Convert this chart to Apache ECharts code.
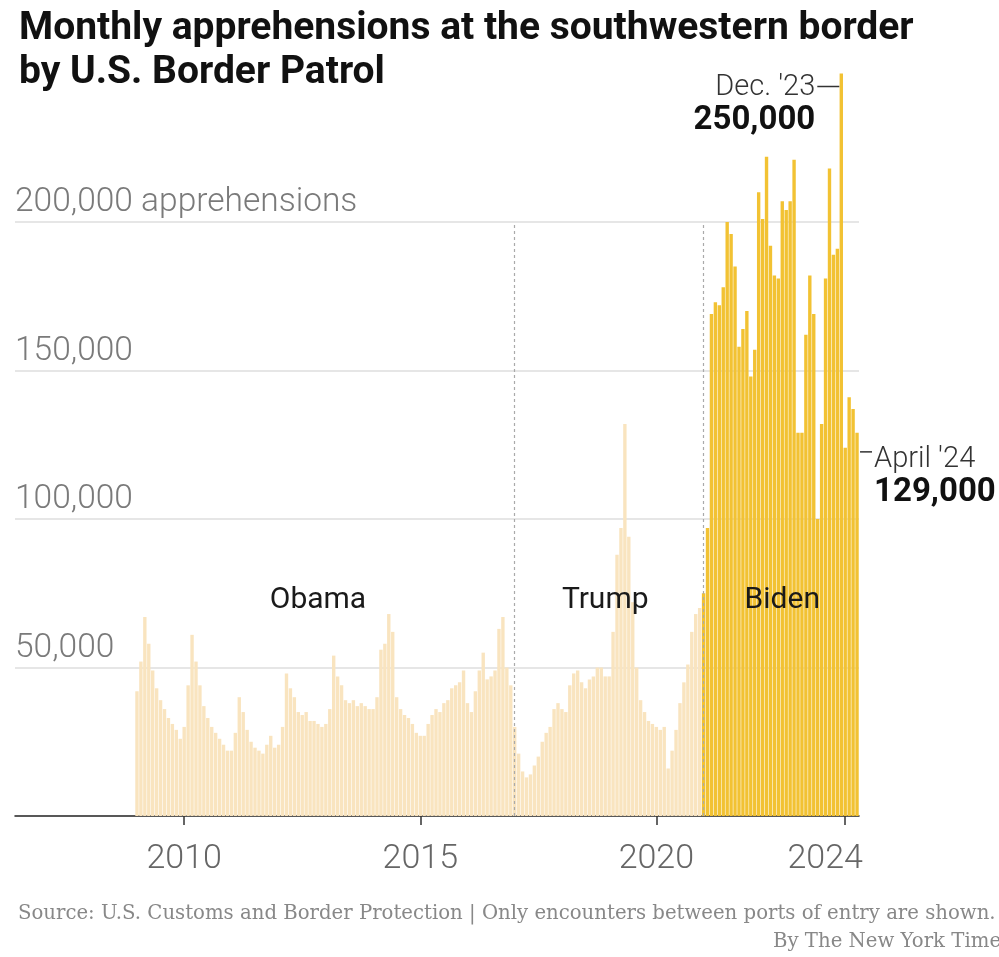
<!DOCTYPE html>
<html>
<head>
<meta charset="utf-8">
<script src="https://cdn.jsdelivr.net/npm/echarts@6/dist/echarts.min.js"></script>
<style>
html,body{margin:0;padding:0;background:#fff;}
#c{width:999px;height:957px;}
</style>
</head>
<body>
<div id="c"></div>
<script>
// ---- Data (monthly USBP apprehensions, southwest border) ----
const years = [2009,2010,2011,2012,2013,2014,2015,2016,2017,2018,2019,2020,2021,2022,2023,2024];
const y2009 = [42000,52000,67000,58000,49000,43000,39000,36000,33000,31000,29000,26000];
const y2010 = [30000,44000,61000,52000,44000,37000,33000,30000,28000,26000,24000,22000];
const y2011 = [22000,28000,40000,35000,29000,25000,23000,22000,21000,24000,27000,23000];
const y2012 = [24000,30000,48000,43000,40000,35000,34000,35000,32000,32000,31000,30000];
const y2013 = [31000,36000,54000,47000,44000,39000,38000,39000,37000,38000,37000,36000];
const y2014 = [36000,40000,56000,58000,68000,62000,40000,36000,34000,33000,31000,28000];
const y2015 = [27000,27000,31000,34000,36000,35000,38000,39000,43000,44000,45000,49000];
const y2016 = [38000,35000,42000,49000,55000,46000,47000,49000,63000,67000,50000,44000];
const y2017 = [30000,21000,15000,13000,14000,17000,20000,25000,28000,30000,36000,38000];
const y2018 = [36000,35000,44000,48000,49000,45000,43000,46000,47000,50000,50000,47000];
const y2019 = [47000,62000,88000,97000,132000,94000,72000,50000,39000,35000,32000,31000];
const y2020 = [30000,29000,30000,16000,22000,29000,38000,45000,51000,62000,68000,70000];
const y2021 = [75000,97000,169000,173000,172000,178000,200000,196000,185000,158000,164000,170000];
const y2022 = [148000,157000,210000,201000,222000,192000,182000,181000,207000,204000,207000,221000];
const y2023 = [129000,129000,162000,182000,169000,100000,132000,181000,218000,189000,191000,250000];
const y2024 = [124000,141000,137000,129000];
const monthly = [].concat(y2009,y2010,y2011,y2012,y2013,y2014,y2015,y2016,y2017,y2018,y2019,y2020,y2021,y2022,y2023,y2024);

const categories = [];
years.forEach(function(y){
  for (let m = 1; m <= 12; m++) {
    if (categories.length < monthly.length) categories.push(y + '-' + String(m).padStart(2,'0'));
  }
});

const xTickCats = ['2010-01','2015-01','2020-01','2024-01'];
const xTickLabels = ['2010','2015','2020','2024'];
const yTicks = [0,50000,100000,150000,200000,250000];
const yTickLabels = ['','50,000','100,000','150,000','200,000 apprehensions',''];

const trumpStart = '2017-01';
const bidenStart = '2021-01';
const periodNames = ['Obama','Trump','Biden'];
const periodLabelAt = ['2012-11','2018-12','2022-09'];
const periodLabelValue = 72500;

const peakCat = '2023-12';
const lastCat = '2024-04';
const peakText = ["Dec. '23", '250,000'];
const lastText = ["April '24", '129,000'];

const PALE = '#f9e4bf';
const GOLD = '#f2c233';

// ---- Chart ----
const chart = echarts.init(document.getElementById('c'), null, {renderer:'canvas'});
const bidenIdx = categories.indexOf(bidenStart);

const option = {
  animation: false,
  backgroundColor: '#fff',
  textStyle: {fontFamily: 'Roboto'},
  title: {
    text: 'Monthly apprehensions at the southwestern border\nby U.S. Border Patrol',
    left: 14, top: 2,
    textStyle: {fontFamily:'Roboto', fontWeight:'bold', fontSize:39, lineHeight:44, color:'#111'}
  },
  grid: [
    {left: 15, right: 140, top: 73.5, bottom: 141, containLabel: false},
    {left: 135, right: 140, top: 73.5, bottom: 141, containLabel: false}
  ],
  xAxis: [
    {
      gridIndex: 0, type: 'category', data: categories,
      axisLine: {show: true, lineStyle: {color: '#222', width: 1.5}},
      axisTick: {show: false}, axisLabel: {show: false}, splitLine: {show: false}
    },
    {
      gridIndex: 1, type: 'category', data: categories, boundaryGap: true,
      axisLine: {show: false},
      axisTick: {show: true, alignWithLabel: true, length: 9,
        interval: function(i, v){ return xTickCats.indexOf(v) >= 0; },
        lineStyle: {color: '#333', width: 1.5}},
      axisLabel: {
        interval: function(i, v){ return xTickCats.indexOf(v) >= 0; },
        margin: 26,
        formatter: function(v){
          const k = xTickCats.indexOf(v);
          if (k < 0) return '';
          return (k === xTickCats.length - 1 ? '{s|' : '{n|') + xTickLabels[k] + '}';
        },
        rich: {
          n: {fontFamily:'Roboto', fontSize: 34, fontWeight: 300, color: '#666'},
          s: {fontFamily:'Roboto', fontSize: 34, fontWeight: 300, color: '#666', padding: [0, 40, 0, 0]}
        }
      },
      splitLine: {show: false}
    }
  ],
  yAxis: [
    {
      gridIndex: 0, type: 'value', min: 0, max: 250000, interval: 50000,
      axisLine: {show: false}, axisTick: {show: false},
      splitLine: {show: true, showMinLine: false, showMaxLine: false, lineStyle: {color: '#dedede', width: 1.5}},
      axisLabel: {
        inside: true, margin: 0, align: 'left', verticalAlign: 'bottom',
        padding: [0, 0, 2, 0],
        fontFamily: 'Roboto', fontSize: 33.5, fontWeight: 300, color: '#7a7a7a',
        formatter: function(v){ const k = yTicks.indexOf(v); return k >= 0 ? yTickLabels[k] : ''; }
      }
    },
    {gridIndex: 1, type: 'value', min: 0, max: 250000, interval: 50000, show: false}
  ],
  series: [{
    type: 'bar', xAxisIndex: 1, yAxisIndex: 1,
    barCategoryGap: '14%',
    data: monthly.map(function(v, i){ return {value: v, itemStyle: {color: i >= bidenIdx ? GOLD : PALE}}; }),
    markLine: {
      silent: true, symbol: ['none','none'], label: {show: false},
      lineStyle: {type: [3, 3], color: '#aaa', width: 1.2},
      data: [
        [{coord: [trumpStart, 0]}, {coord: [trumpStart, 200000]}],
        [{coord: [bidenStart, 0]}, {coord: [bidenStart, 200000]}]
      ]
    }
  }]
};
chart.setOption(option);

// ---- Annotations placed through the chart's own scales ----
function px(cat, val){ return chart.convertToPixel({seriesIndex: 0}, [cat, val]); }
const graphics = [];
periodNames.forEach(function(name, k){
  const p = px(periodLabelAt[k], periodLabelValue);
  graphics.push({type:'text', x: p[0], y: p[1], z: 10,
    style: {text: name, fontFamily:'Roboto', fontSize: 30, fontWeight: 400, fill:'#1a1a1a', textAlign:'center', textVerticalAlign:'middle'}});
});
const pk = px(peakCat, monthly[categories.indexOf(peakCat)]);
graphics.push({type:'line', z: 10, shape:{x1: pk[0]-24, y1: pk[1]+13, x2: pk[0]-2, y2: pk[1]+13}, style:{stroke:'#333', lineWidth:1.5}});
graphics.push({type:'text', x: pk[0]-26, y: pk[1]+14, z: 10,
  style:{text: peakText[0], fontFamily:'Roboto', fontSize: 29, fontWeight: 300, fill:'#333', textAlign:'right', textVerticalAlign:'middle'}});
graphics.push({type:'text', x: pk[0]-26, y: pk[1]+47, z: 10,
  style:{text: peakText[1], fontFamily:'Roboto', fontSize: 33, fontWeight: 'bold', fill:'#111', textAlign:'right', textVerticalAlign:'middle'}});
const ls = px(lastCat, monthly[categories.indexOf(lastCat)]);
graphics.push({type:'line', z: 10, shape:{x1: ls[0]+3, y1: ls[1]+19, x2: ls[0]+15, y2: ls[1]+19}, style:{stroke:'#333', lineWidth:1.5}});
graphics.push({type:'text', x: ls[0]+17, y: ls[1]+27, z: 10,
  style:{text: lastText[0], fontFamily:'Roboto', fontSize: 29, fontWeight: 300, fill:'#333', textAlign:'left', textVerticalAlign:'middle'}});
graphics.push({type:'text', x: ls[0]+17, y: ls[1]+60, z: 10,
  style:{text: lastText[1], fontFamily:'Roboto', fontSize: 33, fontWeight: 'bold', fill:'#111', textAlign:'left', textVerticalAlign:'middle'}});
// footer
graphics.push({type:'text', left: 18, top: 904, z: 10,
  style:{text: 'Source: U.S. Customs and Border Protection | Only encounters between ports of entry are shown.', fontFamily:'DejaVu Serif', fontSize: 19.7, fill:'#888'}});
graphics.push({type:'text', left: 773, top: 932, z: 10,
  style:{text: 'By The New York Times', fontFamily:'DejaVu Serif', fontSize: 19.7, fill:'#888'}});
chart.setOption({graphic: graphics});
</script>
</body>
</html>
